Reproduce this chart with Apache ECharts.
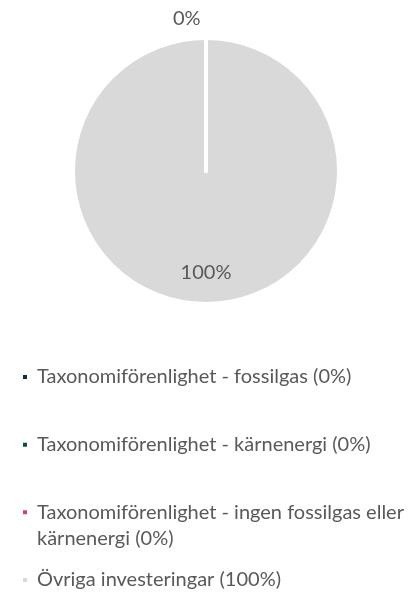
<!DOCTYPE html>
<html>
<head>
<meta charset="utf-8">
<script src="https://cdn.jsdelivr.net/npm/echarts@6/dist/echarts.min.js"></script>
<style>
  html, body { margin: 0; padding: 0; background: #fff; }
  #chart { width: 413px; height: 593px; }
</style>
</head>
<body>
<div id="chart"></div>
<script>
  // andelar i procent
  var names = [
    'Taxonomiförenlighet - fossilgas',
    'Taxonomiförenlighet - kärnenergi',
    'Taxonomiförenlighet - ingen fossilgas eller kärnenergi',
    'Övriga investeringar'
  ];
  var values = [0, 0, 0, 100];
  var colors = ['#15294b', '#0c4f44', '#c9485f', '#d9d9d9'];

  var textColor = '#595959';
  var font = 'Lato';
  var lh = 26;

  let chart = echarts.init(document.getElementById('chart'));

  var pieData = names.map(function (n, i) {
    var item = { name: n, value: values[i], itemStyle: { color: colors[i] } };
    if (i === 0) {
      // etiketten ovanför cirkeln, lite till vänster om linjen
      item.label = { show: true, position: 'outside', offset: [-38, 0] };
    } else if (i === 3) {
      item.label = { show: true, position: 'inside', offset: [0, 32] };
    } else {
      item.label = { show: false };
    }
    return item;
  });
  // stora sektorn först, så att nollsektorernas vita kant ritas ovanpå
  pieData = [pieData[3]].concat(pieData.slice(0, 3));

  // en legend per rad, så avståndet blir som i bilden
  var centers = [377, 444.7, 512.3, 580];
  var legends = names.map(function (n, i) {
    var twoLines = i === 2;
    var h = twoLines ? lh * 3 : lh;
    return {
      left: 21,
      top: centers[i] - h / 2,
      padding: 0,
      orient: 'vertical',
      selectedMode: false,
      icon: 'rect',
      itemWidth: 6,
      itemHeight: 6,
      data: [n],
      formatter: function (name) {
        var txt = name + ' (' + values[names.indexOf(name)] + '%)';
        // tom första rad: ikonen hamnar vid första textraden
        return twoLines ? '\n' + txt : txt;
      },
      textStyle: {
        color: textColor,
        fontFamily: font,
        fontSize: 20,
        lineHeight: lh,
        width: 385,
        overflow: 'break',
        padding: [0, 0, 0, 4]
      }
    };
  });

  var option = {
    animation: false,
    color: colors,
    legend: legends,
    series: [
      {
        type: 'pie',
        center: [206, 171],
        radius: 133,
        startAngle: 90,
        clockwise: true,
        avoidLabelOverlap: false,
        emphasis: { disabled: true },
        itemStyle: { borderColor: '#fff', borderWidth: 4 },
        label: {
          color: textColor,
          fontFamily: font,
          fontSize: 20,
          formatter: '{c}%'
        },
        labelLine: { show: false, length: 19.5, length2: 0 },
        data: pieData
      }
    ]
  };

  option && chart.setOption(option);
</script>
</body>
</html>
